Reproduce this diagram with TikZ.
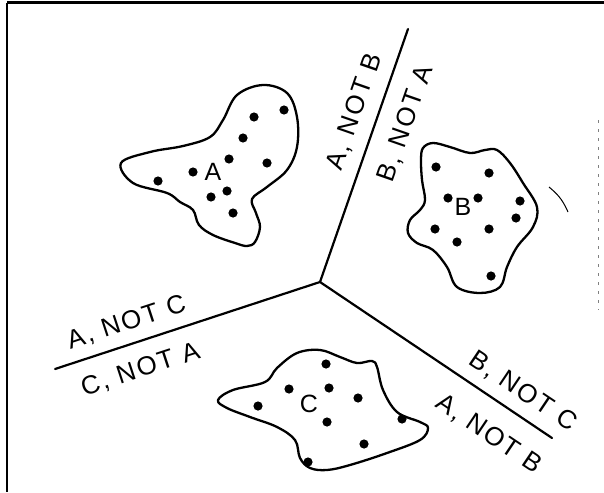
\documentclass[tikz,border=0pt]{standalone}
\usepackage{fontspec}
\setmainfont{Liberation Sans}
\newfontfamily\lblfont{Liberation Sans}[LetterSpace=8]
\begin{document}
\begin{tikzpicture}[x=1pt,y=-1pt,
  divider/.style={line width=2.2pt,line cap=round},
  blob/.style={line width=2.3pt,line join=round},
  lbl/.style={font=\lblfont\fontsize{26}{29}\selectfont,inner sep=0pt,text height=18.6pt,text depth=0pt},
  bloblbl/.style={font=\fontsize{25}{28}\selectfont,inner sep=0pt,text height=18pt,text depth=0pt}]
\useasboundingbox (0,0) rectangle (604,492);
% frame
\draw[line width=3pt] (7,3) -- (604,3);
\draw[line width=1.3pt] (7,3) -- (7,492);
\draw[line width=0.8pt,dash pattern=on 3pt off 6pt,gray] (598,120) -- (598,310);
\draw[line width=1pt] (549,187) .. controls (556,193) and (562,198) .. (568,212);
% dividers
\coordinate (J) at (320,282);
\coordinate (T) at (408,29);
\coordinate (L) at (55,369);
\coordinate (R) at (552,438);
\draw[divider] (J) -- (T);
\draw[divider] (J) -- (L);
\draw[divider] (J) -- (R);
% labels
\node[lbl,rotate=70.8] (ab1) at (353,111) {A, NOT B};
\node[lbl,rotate=70.8] (ba) at (404,123) {B, NOT A};
\node[lbl,rotate=18.2] (ac) at (126,321) {A, NOT C};
\node[lbl,rotate=18.2] (ca) at (140,368) {C, NOT A};
\node[lbl,rotate=-33.9] (bc) at (524,390) {B, NOT C};
\node[lbl,rotate=-33.9] (ab2) at (490,433) {A, NOT B};
% blob A
\draw[blob] plot[smooth cycle,tension=0.6] coordinates {
 (121,163) (150,152) (183,146) (210,137) (223,120) (237,95) (263,85)
 (287,93) (297,117) (297,147) (287,170) (267,187) (252,199) (256,213)
 (260,227) (255,242) (247,246) (235,243) (213,235) (199,225) (193,210)
 (180,202) (167,193) (133,183)};
% blob B
\draw[blob] plot[smooth cycle,tension=0.6] coordinates {
 (423,148) (433,143) (450,147) (470,153) (485,150) (497,150) (510,163)
 (523,183) (537,207) (533,227) (517,247) (507,267) (500,287) (480,293)
 (457,287) (447,267) (433,250) (417,243) (408,233) (410,220) (420,210)
 (425,200) (422,180) (421,160)};
% blob C
\draw[blob] plot[smooth cycle,tension=0.6] coordinates {
 (218,400) (233,390) (265,382) (277,368) (297,353) (320,350) (340,357)
 (357,363) (372,361) (377,367) (383,390) (397,412) (420,422) (428,428)
 (420,440) (387,453) (350,465) (327,470) (310,468) (300,458) (295,440)
 (277,427) (250,417) (227,408)};
% dots
\foreach \p in {(284,110),(254,117),(243,138),(229,159),(267,163),(193,172),
  (158,181),(227,191),(211,197),(233,213),
  (436,167),(489,173),(448,198),(478,198),(520,201),(516,218),(435,229),
  (489,229),(457,242),(491,276),
  (326,364),(289,389),(329,388),(358,398),(258,406),(327,422),(402,419),
  (364,444),(308,462)}
  \fill \p circle[radius=4.6pt];
% blob names
\node[bloblbl] (na) at (213,171) {A};
\node[bloblbl] (nb) at (463,206) {B};
\node[bloblbl] (nc) at (309,403) {C};
\end{tikzpicture}
\end{document}
